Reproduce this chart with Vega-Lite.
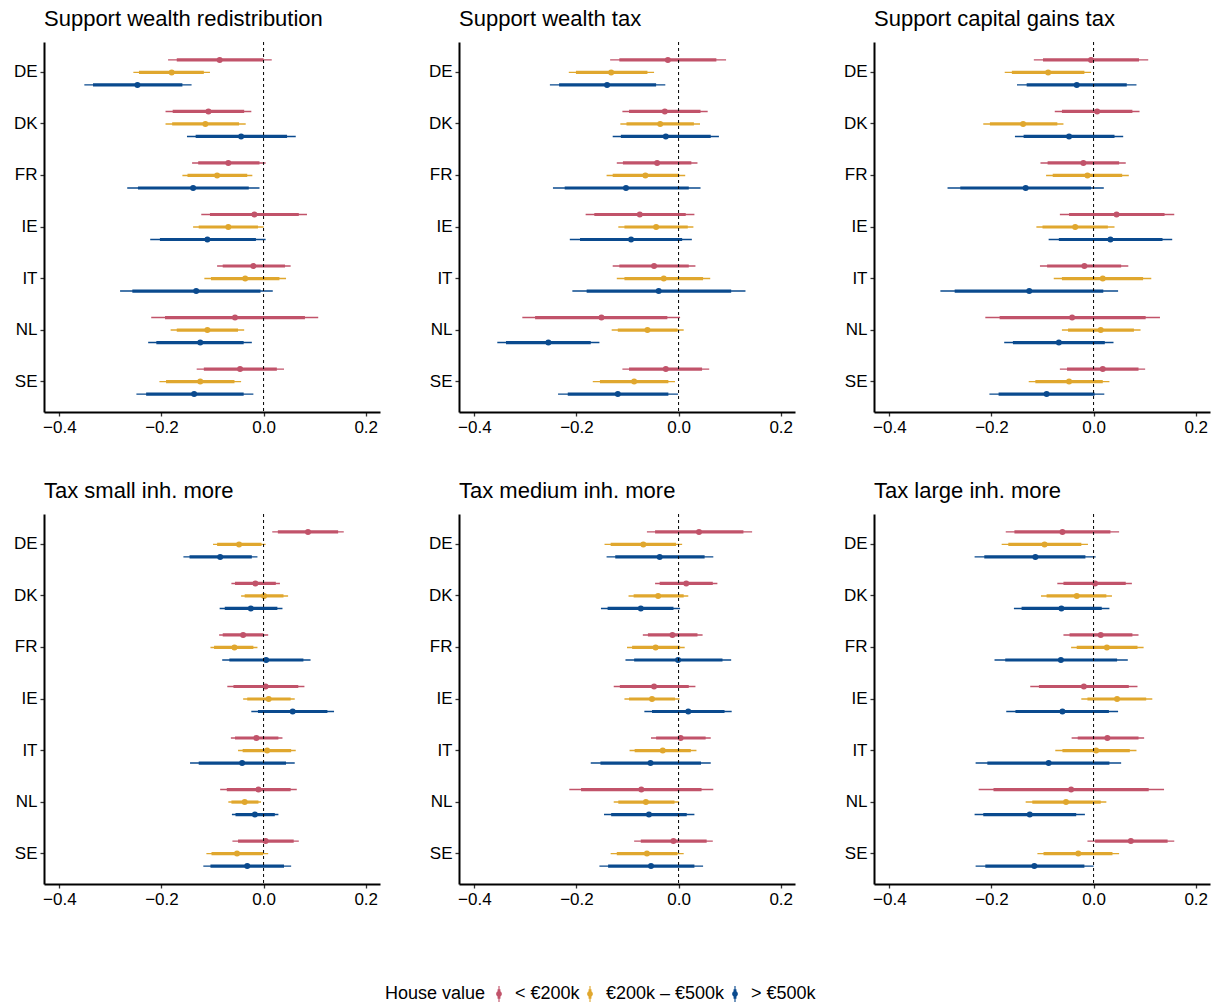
{
"$schema": "https://vega.github.io/schema/vega-lite/v6.json",
"padding": {"left": 13, "top": 7, "right": 5, "bottom": 5},
"config": {"font": "Liberation Sans", "view": {"stroke": null}},
"data": {"values": [
{"panel":"Support wealth redistribution","country":"DE","house":"< €200k","est":-0.086,"lo95":-0.187,"hi95":0.016,"lo90":-0.170,"hi90":0.000},
{"panel":"Support wealth redistribution","country":"DE","house":"€200k – €500k","est":-0.180,"lo95":-0.255,"hi95":-0.105,"lo90":-0.244,"hi90":-0.117},
{"panel":"Support wealth redistribution","country":"DE","house":"> €500k","est":-0.247,"lo95":-0.351,"hi95":-0.141,"lo90":-0.334,"hi90":-0.159},
{"panel":"Support wealth redistribution","country":"DK","house":"< €200k","est":-0.108,"lo95":-0.192,"hi95":-0.024,"lo90":-0.178,"hi90":-0.038},
{"panel":"Support wealth redistribution","country":"DK","house":"€200k – €500k","est":-0.114,"lo95":-0.192,"hi95":-0.035,"lo90":-0.179,"hi90":-0.048},
{"panel":"Support wealth redistribution","country":"DK","house":"> €500k","est":-0.044,"lo95":-0.150,"hi95":0.063,"lo90":-0.133,"hi90":0.046},
{"panel":"Support wealth redistribution","country":"FR","house":"< €200k","est":-0.069,"lo95":-0.140,"hi95":0.004,"lo90":-0.128,"hi90":-0.008},
{"panel":"Support wealth redistribution","country":"FR","house":"€200k – €500k","est":-0.091,"lo95":-0.159,"hi95":-0.022,"lo90":-0.149,"hi90":-0.032},
{"panel":"Support wealth redistribution","country":"FR","house":"> €500k","est":-0.138,"lo95":-0.267,"hi95":-0.008,"lo90":-0.246,"hi90":-0.029},
{"panel":"Support wealth redistribution","country":"IE","house":"< €200k","est":-0.018,"lo95":-0.122,"hi95":0.085,"lo90":-0.105,"hi90":0.069},
{"panel":"Support wealth redistribution","country":"IE","house":"€200k – €500k","est":-0.069,"lo95":-0.138,"hi95":0.000,"lo90":-0.127,"hi90":-0.011},
{"panel":"Support wealth redistribution","country":"IE","house":"> €500k","est":-0.110,"lo95":-0.222,"hi95":0.004,"lo90":-0.203,"hi90":-0.015},
{"panel":"Support wealth redistribution","country":"IT","house":"< €200k","est":-0.020,"lo95":-0.091,"hi95":0.053,"lo90":-0.080,"hi90":0.042},
{"panel":"Support wealth redistribution","country":"IT","house":"€200k – €500k","est":-0.036,"lo95":-0.116,"hi95":0.044,"lo90":-0.103,"hi90":0.031},
{"panel":"Support wealth redistribution","country":"IT","house":"> €500k","est":-0.132,"lo95":-0.281,"hi95":0.018,"lo90":-0.257,"hi90":-0.006},
{"panel":"Support wealth redistribution","country":"NL","house":"< €200k","est":-0.056,"lo95":-0.220,"hi95":0.107,"lo90":-0.193,"hi90":0.081},
{"panel":"Support wealth redistribution","country":"NL","house":"€200k – €500k","est":-0.110,"lo95":-0.182,"hi95":-0.038,"lo90":-0.170,"hi90":-0.050},
{"panel":"Support wealth redistribution","country":"NL","house":"> €500k","est":-0.124,"lo95":-0.226,"hi95":-0.023,"lo90":-0.210,"hi90":-0.039},
{"panel":"Support wealth redistribution","country":"SE","house":"< €200k","est":-0.046,"lo95":-0.131,"hi95":0.040,"lo90":-0.117,"hi90":0.026},
{"panel":"Support wealth redistribution","country":"SE","house":"€200k – €500k","est":-0.124,"lo95":-0.204,"hi95":-0.044,"lo90":-0.191,"hi90":-0.057},
{"panel":"Support wealth redistribution","country":"SE","house":"> €500k","est":-0.136,"lo95":-0.249,"hi95":-0.020,"lo90":-0.230,"hi90":-0.039},
{"panel":"Support wealth tax","country":"DE","house":"< €200k","est":-0.021,"lo95":-0.134,"hi95":0.093,"lo90":-0.116,"hi90":0.074},
{"panel":"Support wealth tax","country":"DE","house":"€200k – €500k","est":-0.132,"lo95":-0.215,"hi95":-0.048,"lo90":-0.201,"hi90":-0.061},
{"panel":"Support wealth tax","country":"DE","house":"> €500k","est":-0.140,"lo95":-0.252,"hi95":-0.026,"lo90":-0.234,"hi90":-0.044},
{"panel":"Support wealth tax","country":"DK","house":"< €200k","est":-0.027,"lo95":-0.110,"hi95":0.057,"lo90":-0.097,"hi90":0.043},
{"panel":"Support wealth tax","country":"DK","house":"€200k – €500k","est":-0.036,"lo95":-0.114,"hi95":0.042,"lo90":-0.102,"hi90":0.030},
{"panel":"Support wealth tax","country":"DK","house":"> €500k","est":-0.025,"lo95":-0.129,"hi95":0.079,"lo90":-0.113,"hi90":0.063},
{"panel":"Support wealth tax","country":"FR","house":"< €200k","est":-0.042,"lo95":-0.121,"hi95":0.037,"lo90":-0.109,"hi90":0.025},
{"panel":"Support wealth tax","country":"FR","house":"€200k – €500k","est":-0.065,"lo95":-0.141,"hi95":0.013,"lo90":-0.129,"hi90":0.001},
{"panel":"Support wealth tax","country":"FR","house":"> €500k","est":-0.103,"lo95":-0.246,"hi95":0.043,"lo90":-0.223,"hi90":0.020},
{"panel":"Support wealth tax","country":"IE","house":"< €200k","est":-0.076,"lo95":-0.182,"hi95":0.031,"lo90":-0.165,"hi90":0.014},
{"panel":"Support wealth tax","country":"IE","house":"€200k – €500k","est":-0.044,"lo95":-0.118,"hi95":0.029,"lo90":-0.106,"hi90":0.018},
{"panel":"Support wealth tax","country":"IE","house":"> €500k","est":-0.093,"lo95":-0.213,"hi95":0.026,"lo90":-0.193,"hi90":0.007},
{"panel":"Support wealth tax","country":"IT","house":"< €200k","est":-0.048,"lo95":-0.129,"hi95":0.033,"lo90":-0.116,"hi90":0.020},
{"panel":"Support wealth tax","country":"IT","house":"€200k – €500k","est":-0.029,"lo95":-0.121,"hi95":0.062,"lo90":-0.106,"hi90":0.048},
{"panel":"Support wealth tax","country":"IT","house":"> €500k","est":-0.039,"lo95":-0.208,"hi95":0.131,"lo90":-0.180,"hi90":0.103},
{"panel":"Support wealth tax","country":"NL","house":"< €200k","est":-0.151,"lo95":-0.306,"hi95":0.003,"lo90":-0.281,"hi90":-0.022},
{"panel":"Support wealth tax","country":"NL","house":"€200k – €500k","est":-0.061,"lo95":-0.131,"hi95":0.010,"lo90":-0.119,"hi90":-0.002},
{"panel":"Support wealth tax","country":"NL","house":"> €500k","est":-0.255,"lo95":-0.355,"hi95":-0.155,"lo90":-0.338,"hi90":-0.172},
{"panel":"Support wealth tax","country":"SE","house":"< €200k","est":-0.025,"lo95":-0.110,"hi95":0.060,"lo90":-0.097,"hi90":0.046},
{"panel":"Support wealth tax","country":"SE","house":"€200k – €500k","est":-0.087,"lo95":-0.168,"hi95":-0.007,"lo90":-0.154,"hi90":-0.020},
{"panel":"Support wealth tax","country":"SE","house":"> €500k","est":-0.119,"lo95":-0.236,"hi95":-0.001,"lo90":-0.217,"hi90":-0.020},
{"panel":"Support capital gains tax","country":"DE","house":"< €200k","est":-0.005,"lo95":-0.117,"hi95":0.107,"lo90":-0.099,"hi90":0.089},
{"panel":"Support capital gains tax","country":"DE","house":"€200k – €500k","est":-0.089,"lo95":-0.174,"hi95":-0.005,"lo90":-0.160,"hi90":-0.018},
{"panel":"Support capital gains tax","country":"DE","house":"> €500k","est":-0.033,"lo95":-0.150,"hi95":0.084,"lo90":-0.131,"hi90":0.065},
{"panel":"Support capital gains tax","country":"DK","house":"< €200k","est":0.007,"lo95":-0.076,"hi95":0.090,"lo90":-0.062,"hi90":0.076},
{"panel":"Support capital gains tax","country":"DK","house":"€200k – €500k","est":-0.138,"lo95":-0.216,"hi95":-0.059,"lo90":-0.203,"hi90":-0.071},
{"panel":"Support capital gains tax","country":"DK","house":"> €500k","est":-0.048,"lo95":-0.154,"hi95":0.058,"lo90":-0.137,"hi90":0.041},
{"panel":"Support capital gains tax","country":"FR","house":"< €200k","est":-0.020,"lo95":-0.104,"hi95":0.063,"lo90":-0.090,"hi90":0.050},
{"panel":"Support capital gains tax","country":"FR","house":"€200k – €500k","est":-0.012,"lo95":-0.093,"hi95":0.069,"lo90":-0.080,"hi90":0.056},
{"panel":"Support capital gains tax","country":"FR","house":"> €500k","est":-0.133,"lo95":-0.286,"hi95":0.020,"lo90":-0.261,"hi90":-0.005},
{"panel":"Support capital gains tax","country":"IE","house":"< €200k","est":0.045,"lo95":-0.066,"hi95":0.158,"lo90":-0.048,"hi90":0.139},
{"panel":"Support capital gains tax","country":"IE","house":"€200k – €500k","est":-0.036,"lo95":-0.112,"hi95":0.041,"lo90":-0.100,"hi90":0.028},
{"panel":"Support capital gains tax","country":"IE","house":"> €500k","est":0.033,"lo95":-0.088,"hi95":0.154,"lo90":-0.068,"hi90":0.135},
{"panel":"Support capital gains tax","country":"IT","house":"< €200k","est":-0.018,"lo95":-0.105,"hi95":0.068,"lo90":-0.091,"hi90":0.054},
{"panel":"Support capital gains tax","country":"IT","house":"€200k – €500k","est":0.018,"lo95":-0.078,"hi95":0.113,"lo90":-0.062,"hi90":0.097},
{"panel":"Support capital gains tax","country":"IT","house":"> €500k","est":-0.126,"lo95":-0.300,"hi95":0.048,"lo90":-0.272,"hi90":0.019},
{"panel":"Support capital gains tax","country":"NL","house":"< €200k","est":-0.042,"lo95":-0.212,"hi95":0.130,"lo90":-0.184,"hi90":0.102},
{"panel":"Support capital gains tax","country":"NL","house":"€200k – €500k","est":0.014,"lo95":-0.062,"hi95":0.092,"lo90":-0.050,"hi90":0.079},
{"panel":"Support capital gains tax","country":"NL","house":"> €500k","est":-0.068,"lo95":-0.175,"hi95":0.039,"lo90":-0.158,"hi90":0.022},
{"panel":"Support capital gains tax","country":"SE","house":"< €200k","est":0.018,"lo95":-0.066,"hi95":0.101,"lo90":-0.052,"hi90":0.088},
{"panel":"Support capital gains tax","country":"SE","house":"€200k – €500k","est":-0.048,"lo95":-0.127,"hi95":0.031,"lo90":-0.114,"hi90":0.018},
{"panel":"Support capital gains tax","country":"SE","house":"> €500k","est":-0.092,"lo95":-0.204,"hi95":0.021,"lo90":-0.186,"hi90":0.002},
{"panel":"Tax small inh. more","country":"DE","house":"< €200k","est":0.087,"lo95":0.017,"hi95":0.157,"lo90":0.028,"hi90":0.146},
{"panel":"Tax small inh. more","country":"DE","house":"€200k – €500k","est":-0.048,"lo95":-0.099,"hi95":0.004,"lo90":-0.091,"hi90":-0.004},
{"panel":"Tax small inh. more","country":"DE","house":"> €500k","est":-0.085,"lo95":-0.157,"hi95":-0.012,"lo90":-0.145,"hi90":-0.023},
{"panel":"Tax small inh. more","country":"DK","house":"< €200k","est":-0.016,"lo95":-0.063,"hi95":0.032,"lo90":-0.056,"hi90":0.024},
{"panel":"Tax small inh. more","country":"DK","house":"€200k – €500k","est":0.001,"lo95":-0.044,"hi95":0.048,"lo90":-0.037,"hi90":0.039},
{"panel":"Tax small inh. more","country":"DK","house":"> €500k","est":-0.025,"lo95":-0.086,"hi95":0.037,"lo90":-0.076,"hi90":0.027},
{"panel":"Tax small inh. more","country":"FR","house":"< €200k","est":-0.040,"lo95":-0.087,"hi95":0.009,"lo90":-0.080,"hi90":0.000},
{"panel":"Tax small inh. more","country":"FR","house":"€200k – €500k","est":-0.057,"lo95":-0.104,"hi95":-0.012,"lo90":-0.097,"hi90":-0.020},
{"panel":"Tax small inh. more","country":"FR","house":"> €500k","est":0.005,"lo95":-0.081,"hi95":0.092,"lo90":-0.067,"hi90":0.078},
{"panel":"Tax small inh. more","country":"IE","house":"< €200k","est":0.004,"lo95":-0.071,"hi95":0.080,"lo90":-0.059,"hi90":0.068},
{"panel":"Tax small inh. more","country":"IE","house":"€200k – €500k","est":0.010,"lo95":-0.040,"hi95":0.061,"lo90":-0.032,"hi90":0.053},
{"panel":"Tax small inh. more","country":"IE","house":"> €500k","est":0.057,"lo95":-0.024,"hi95":0.138,"lo90":-0.011,"hi90":0.125},
{"panel":"Tax small inh. more","country":"IT","house":"< €200k","est":-0.014,"lo95":-0.064,"hi95":0.037,"lo90":-0.056,"hi90":0.029},
{"panel":"Tax small inh. more","country":"IT","house":"€200k – €500k","est":0.007,"lo95":-0.050,"hi95":0.063,"lo90":-0.041,"hi90":0.054},
{"panel":"Tax small inh. more","country":"IT","house":"> €500k","est":-0.042,"lo95":-0.144,"hi95":0.061,"lo90":-0.127,"hi90":0.044},
{"panel":"Tax small inh. more","country":"NL","house":"< €200k","est":-0.010,"lo95":-0.085,"hi95":0.065,"lo90":-0.072,"hi90":0.053},
{"panel":"Tax small inh. more","country":"NL","house":"€200k – €500k","est":-0.037,"lo95":-0.069,"hi95":-0.005,"lo90":-0.063,"hi90":-0.010},
{"panel":"Tax small inh. more","country":"NL","house":"> €500k","est":-0.017,"lo95":-0.062,"hi95":0.029,"lo90":-0.055,"hi90":0.022},
{"panel":"Tax small inh. more","country":"SE","house":"< €200k","est":0.004,"lo95":-0.061,"hi95":0.069,"lo90":-0.050,"hi90":0.059},
{"panel":"Tax small inh. more","country":"SE","house":"€200k – €500k","est":-0.052,"lo95":-0.112,"hi95":0.009,"lo90":-0.102,"hi90":-0.001},
{"panel":"Tax small inh. more","country":"SE","house":"> €500k","est":-0.032,"lo95":-0.118,"hi95":0.054,"lo90":-0.104,"hi90":0.040},
{"panel":"Tax medium inh. more","country":"DE","house":"< €200k","est":0.040,"lo95":-0.062,"hi95":0.144,"lo90":-0.046,"hi90":0.127},
{"panel":"Tax medium inh. more","country":"DE","house":"€200k – €500k","est":-0.069,"lo95":-0.145,"hi95":0.007,"lo90":-0.133,"hi90":-0.005},
{"panel":"Tax medium inh. more","country":"DE","house":"> €500k","est":-0.037,"lo95":-0.141,"hi95":0.068,"lo90":-0.124,"hi90":0.051},
{"panel":"Tax medium inh. more","country":"DK","house":"< €200k","est":0.015,"lo95":-0.046,"hi95":0.076,"lo90":-0.037,"hi90":0.067},
{"panel":"Tax medium inh. more","country":"DK","house":"€200k – €500k","est":-0.040,"lo95":-0.098,"hi95":0.019,"lo90":-0.088,"hi90":0.010},
{"panel":"Tax medium inh. more","country":"DK","house":"> €500k","est":-0.074,"lo95":-0.152,"hi95":0.003,"lo90":-0.139,"hi90":-0.010},
{"panel":"Tax medium inh. more","country":"FR","house":"< €200k","est":-0.012,"lo95":-0.070,"hi95":0.047,"lo90":-0.060,"hi90":0.037},
{"panel":"Tax medium inh. more","country":"FR","house":"€200k – €500k","est":-0.045,"lo95":-0.101,"hi95":0.012,"lo90":-0.091,"hi90":0.003},
{"panel":"Tax medium inh. more","country":"FR","house":"> €500k","est":-0.001,"lo95":-0.104,"hi95":0.103,"lo90":-0.087,"hi90":0.086},
{"panel":"Tax medium inh. more","country":"IE","house":"< €200k","est":-0.048,"lo95":-0.127,"hi95":0.033,"lo90":-0.115,"hi90":0.020},
{"panel":"Tax medium inh. more","country":"IE","house":"€200k – €500k","est":-0.052,"lo95":-0.106,"hi95":0.002,"lo90":-0.097,"hi90":-0.007},
{"panel":"Tax medium inh. more","country":"IE","house":"> €500k","est":0.019,"lo95":-0.067,"hi95":0.104,"lo90":-0.052,"hi90":0.090},
{"panel":"Tax medium inh. more","country":"IT","house":"< €200k","est":0.004,"lo95":-0.054,"hi95":0.063,"lo90":-0.044,"hi90":0.053},
{"panel":"Tax medium inh. more","country":"IT","house":"€200k – €500k","est":-0.031,"lo95":-0.096,"hi95":0.035,"lo90":-0.086,"hi90":0.024},
{"panel":"Tax medium inh. more","country":"IT","house":"> €500k","est":-0.055,"lo95":-0.172,"hi95":0.063,"lo90":-0.153,"hi90":0.044},
{"panel":"Tax medium inh. more","country":"NL","house":"< €200k","est":-0.073,"lo95":-0.214,"hi95":0.068,"lo90":-0.191,"hi90":0.045},
{"panel":"Tax medium inh. more","country":"NL","house":"€200k – €500k","est":-0.064,"lo95":-0.127,"hi95":0.001,"lo90":-0.118,"hi90":-0.008},
{"panel":"Tax medium inh. more","country":"NL","house":"> €500k","est":-0.058,"lo95":-0.146,"hi95":0.031,"lo90":-0.132,"hi90":0.016},
{"panel":"Tax medium inh. more","country":"SE","house":"< €200k","est":-0.010,"lo95":-0.087,"hi95":0.067,"lo90":-0.074,"hi90":0.055},
{"panel":"Tax medium inh. more","country":"SE","house":"€200k – €500k","est":-0.062,"lo95":-0.133,"hi95":0.010,"lo90":-0.121,"hi90":-0.002},
{"panel":"Tax medium inh. more","country":"SE","house":"> €500k","est":-0.054,"lo95":-0.155,"hi95":0.048,"lo90":-0.138,"hi90":0.031},
{"panel":"Tax large inh. more","country":"DE","house":"< €200k","est":-0.061,"lo95":-0.172,"hi95":0.050,"lo90":-0.155,"hi90":0.033},
{"panel":"Tax large inh. more","country":"DE","house":"€200k – €500k","est":-0.096,"lo95":-0.180,"hi95":-0.011,"lo90":-0.167,"hi90":-0.024},
{"panel":"Tax large inh. more","country":"DE","house":"> €500k","est":-0.114,"lo95":-0.233,"hi95":0.004,"lo90":-0.214,"hi90":-0.016},
{"panel":"Tax large inh. more","country":"DK","house":"< €200k","est":0.003,"lo95":-0.071,"hi95":0.075,"lo90":-0.059,"hi90":0.063},
{"panel":"Tax large inh. more","country":"DK","house":"€200k – €500k","est":-0.033,"lo95":-0.103,"hi95":0.036,"lo90":-0.092,"hi90":0.025},
{"panel":"Tax large inh. more","country":"DK","house":"> €500k","est":-0.063,"lo95":-0.156,"hi95":0.031,"lo90":-0.141,"hi90":0.016},
{"panel":"Tax large inh. more","country":"FR","house":"< €200k","est":0.014,"lo95":-0.059,"hi95":0.088,"lo90":-0.047,"hi90":0.076},
{"panel":"Tax large inh. more","country":"FR","house":"€200k – €500k","est":0.026,"lo95":-0.044,"hi95":0.098,"lo90":-0.033,"hi90":0.086},
{"panel":"Tax large inh. more","country":"FR","house":"> €500k","est":-0.064,"lo95":-0.194,"hi95":0.067,"lo90":-0.173,"hi90":0.046},
{"panel":"Tax large inh. more","country":"IE","house":"< €200k","est":-0.019,"lo95":-0.124,"hi95":0.086,"lo90":-0.107,"hi90":0.069},
{"panel":"Tax large inh. more","country":"IE","house":"€200k – €500k","est":0.046,"lo95":-0.024,"hi95":0.115,"lo90":-0.012,"hi90":0.103},
{"panel":"Tax large inh. more","country":"IE","house":"> €500k","est":-0.061,"lo95":-0.171,"hi95":0.048,"lo90":-0.153,"hi90":0.030},
{"panel":"Tax large inh. more","country":"IT","house":"< €200k","est":0.027,"lo95":-0.043,"hi95":0.099,"lo90":-0.031,"hi90":0.088},
{"panel":"Tax large inh. more","country":"IT","house":"€200k – €500k","est":0.005,"lo95":-0.075,"hi95":0.084,"lo90":-0.061,"hi90":0.071},
{"panel":"Tax large inh. more","country":"IT","house":"> €500k","est":-0.088,"lo95":-0.231,"hi95":0.054,"lo90":-0.208,"hi90":0.031},
{"panel":"Tax large inh. more","country":"NL","house":"< €200k","est":-0.044,"lo95":-0.225,"hi95":0.138,"lo90":-0.196,"hi90":0.108},
{"panel":"Tax large inh. more","country":"NL","house":"€200k – €500k","est":-0.054,"lo95":-0.133,"hi95":0.025,"lo90":-0.120,"hi90":0.014},
{"panel":"Tax large inh. more","country":"NL","house":"> €500k","est":-0.125,"lo95":-0.233,"hi95":-0.017,"lo90":-0.216,"hi90":-0.034},
{"panel":"Tax large inh. more","country":"SE","house":"< €200k","est":0.073,"lo95":-0.012,"hi95":0.158,"lo90":0.003,"hi90":0.145},
{"panel":"Tax large inh. more","country":"SE","house":"€200k – €500k","est":-0.030,"lo95":-0.110,"hi95":0.050,"lo90":-0.098,"hi90":0.037},
{"panel":"Tax large inh. more","country":"SE","house":"> €500k","est":-0.116,"lo95":-0.231,"hi95":0.000,"lo90":-0.212,"hi90":-0.018}
]},
"facet": {"field": "panel", "type": "nominal", "sort": ["Support wealth redistribution","Support wealth tax","Support capital gains tax","Tax small inh. more","Tax medium inh. more","Tax large inh. more"],
  "header": {"title": null, "labelFontSize": 22, "labelAnchor": "start", "labelColor": "black", "labelPadding": 11, "labelFont": "Liberation Sans"}},
"columns": 3,
"spacing": {"row": 44, "column": 48},
"resolve": {"axis": {"x": "independent", "y": "independent"}},
"spec": {
  "width": 336, "height": 370,
  "layer": [
    {"mark": {"type": "rule", "strokeWidth": 1.4},
     "encoding": {
       "y": {"field": "country", "type": "nominal", "title": null, "sort": ["DE","DK","FR","IE","IT","NL","SE"], "scale": {"paddingInner": 0, "paddingOuter": 0.09},
             "axis": {"domainColor": "black", "domainWidth": 2, "tickColor": "#333333", "tickSize": 4, "tickWidth": 1.3, "labelFontSize": 17, "labelColor": "black", "labelPadding": 3, "grid": false}},
       "yOffset": {"field": "house", "type": "nominal", "sort": ["< €200k","€200k – €500k","> €500k"], "scale": {"paddingInner": 0, "paddingOuter": 0.56}},
       "x": {"field": "lo95", "type": "quantitative", "title": null, "scale": {"domain": [-0.43, 0.228], "nice": false, "zero": false},
             "axis": {"values": [-0.4, -0.2, 0, 0.2], "format": ".1f", "domainColor": "black", "domainWidth": 2, "tickColor": "#333333", "tickSize": 4, "tickWidth": 1.3, "labelFontSize": 17, "labelColor": "black", "labelPadding": 3, "grid": false}},
       "x2": {"field": "hi95"},
       "color": {"field": "house", "type": "nominal", "title": "House value",
                 "scale": {"domain": ["< €200k","€200k – €500k","> €500k"], "range": ["#C1536A","#E0A72E","#0A4A8E"]},
                 "legend": {"orient": "none", "legendX": 341, "legendY": 943, "direction": "horizontal", "titleOrient": "left", "titleFontSize": 18, "titleFontWeight": "normal", "titleColor": "black", "titlePadding": 4, "labelFontSize": 18, "labelColor": "black", "labelOffset": 7, "columnPadding": 1,
                            "symbolType": "M-0.07,-1H0.07V1H-0.07Z M-0.18,-0.6H0.18V0.6H-0.18Z M0,-0.36A0.36,0.36 0 1 1 0,0.36A0.36,0.36 0 1 1 0,-0.36Z", "symbolSize": 256, "symbolStrokeWidth": 0,
                            "encode": {"symbols": {"update": {"fill": {"scale": "color", "field": "value"}, "strokeWidth": {"value": 0}}}}}}
     }},
    {"mark": {"type": "rule", "strokeWidth": 3.2},
     "encoding": {
       "y": {"field": "country", "type": "nominal", "title": null, "sort": ["DE","DK","FR","IE","IT","NL","SE"]},
       "yOffset": {"field": "house", "type": "nominal", "sort": ["< €200k","€200k – €500k","> €500k"]},
       "x": {"field": "lo90", "type": "quantitative", "title": null},
       "x2": {"field": "hi90"},
       "color": {"field": "house", "type": "nominal", "title": "House value"}
     }},
    {"mark": {"type": "point", "filled": true, "size": 36, "opacity": 1},
     "encoding": {
       "y": {"field": "country", "type": "nominal", "title": null, "sort": ["DE","DK","FR","IE","IT","NL","SE"]},
       "yOffset": {"field": "house", "type": "nominal", "sort": ["< €200k","€200k – €500k","> €500k"]},
       "x": {"field": "est", "type": "quantitative", "title": null},
       "color": {"field": "house", "type": "nominal", "title": "House value"}
     }},
    {"transform": [{"filter": "datum.country === 'DE' && datum.house === '< €200k'"}],
     "mark": {"type": "rule", "strokeDash": [3, 3], "color": "black", "strokeWidth": 1},
     "encoding": {"x": {"datum": 0, "type": "quantitative"}}}
  ]
}
}
